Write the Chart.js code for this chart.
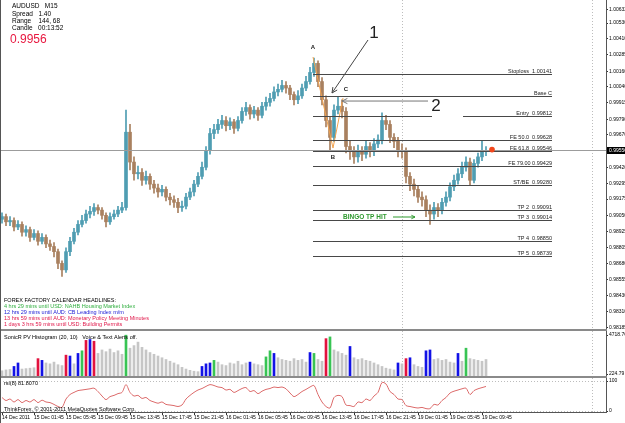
<!DOCTYPE html>
<html>
<head>
<meta charset="utf-8">
<script src="https://cdn.jsdelivr.net/npm/chart.js@4.4.1/dist/chart.umd.min.js"></script>
<style>
html, body { margin:0; padding:0; background:#fff; }
#wrap { position:relative; width:625px; height:423px; overflow:hidden; background:#fff; }
.panel { position:absolute; left:0; width:625px; }
#p1 { top:0; height:330px; }
#p2 { top:331px; height:45px; }
#p3 { top:378px; height:45px; }
.sep { position:absolute; left:0; width:607px; height:2px; background:#8a8a8a; }
#edge { position:absolute; left:0; top:0; width:1px; height:423px; background:#555; }
</style>
</head>
<body>
<div id="wrap">
  <div class="panel" id="p1"><canvas id="c-main"></canvas></div>
  <div class="sep" style="top:329px"></div>
  <div class="panel" id="p2"><canvas id="c-hist"></canvas></div>
  <div class="sep" style="top:376px"></div>
  <div class="panel" id="p3"><canvas id="c-rsi"></canvas></div>
  <div id="edge"></div>
</div>
<script>
/* ============================================================
   AUDUSD M15 — precio, histograma SonicR y RSI(8)
============================================================ */

const TIME_LABELS = ["14 Dec 2011","15 Dec 01:45","15 Dec 05:45","15 Dec 09:45","15 Dec 13:45",
    "15 Dec 17:45","15 Dec 21:45","16 Dec 01:45","16 Dec 05:45","16 Dec 09:45","16 Dec 13:45",
    "16 Dec 17:45","16 Dec 21:45","19 Dec 01:45","19 Dec 05:45","19 Dec 09:45"];

const PRICE_TICKS = [1.00632,1.00530,1.00410,1.00285,1.00160,1.00040,0.99915,0.99790,0.99670,
    0.99420,0.99295,0.99175,0.99050,0.98925,0.98805,0.98680,0.98555,0.98430,0.98310,0.98185];

const FIRST_OPEN = 0.9902;
const CLOSES = [
    0.9904,0.9900,0.9901,0.9896,0.9898,0.9892,0.9894,0.9888,0.9891,0.9885,
    0.9888,0.9883,0.9881,0.9877,0.9868,0.9863,0.9877,0.9885,0.9892,0.9898,
    0.9901,0.9906,0.9908,0.9911,0.9909,0.9905,0.9900,0.9904,0.9906,0.9909,
    0.9911,0.9969,0.9946,0.9937,0.9938,0.9932,0.9935,0.9929,0.9926,0.9923,
    0.9925,0.9919,0.9917,0.9915,0.9911,0.9912,0.9919,0.9923,0.9929,0.9935,
    0.9942,0.9955,0.9968,0.9971,0.9975,0.9978,0.9974,0.9977,0.9972,0.9978,
    0.9985,0.9988,0.9983,0.9986,0.9982,0.9989,0.9992,0.9995,1.0000,1.0002,
    1.0005,1.0003,0.9998,0.9994,0.9997,1.0003,1.0008,1.0015,1.0022,1.0008,
    0.9994,0.9978,0.9965,0.9986,0.9989,0.9985,0.9958,0.9954,0.9950,0.9955,
    0.9952,0.9958,0.9954,0.9960,0.9963,0.9978,0.9975,0.9965,0.9962,0.9955,
    0.9954,0.9935,0.9929,0.9925,0.9919,0.9917,0.9909,0.9906,0.9911,0.9909,
    0.9915,0.9919,0.9927,0.9932,0.9937,0.9942,0.9946,0.9932,0.9945,0.9950,
    0.9954,0.9955];
const HIGHS = [
    0.9907,0.9906,0.9904,0.9903,0.9901,0.9900,0.9897,0.9896,0.9894,0.9893,
    0.9891,0.9890,0.9886,0.9884,0.9879,0.9870,0.9880,0.9888,0.9895,0.9901,
    0.9905,0.9909,0.9912,0.9914,0.9913,0.9911,0.9907,0.9907,0.9909,0.9912,
    0.9915,0.9986,0.9975,0.9950,0.9943,0.9941,0.9939,0.9937,0.9932,0.9929,
    0.9928,0.9927,0.9922,0.9920,0.9918,0.9916,0.9922,0.9926,0.9932,0.9938,
    0.9946,0.9958,0.9972,0.9975,0.9979,0.9982,0.9981,0.9980,0.9979,0.9981,
    0.9988,0.9992,0.9990,0.9989,0.9988,0.9992,0.9996,0.9999,1.0004,1.0006,
    1.0009,1.0008,1.0005,1.0000,1.0001,1.0006,1.0012,1.0019,1.0026,1.0024,
    1.0011,0.9997,0.9981,0.9990,0.9996,0.9994,0.9988,0.9962,0.9958,0.9959,
    0.9958,0.9962,0.9961,0.9964,0.9967,0.9984,0.9982,0.9978,0.9968,0.9965,
    0.9960,0.9957,0.9938,0.9933,0.9928,0.9923,0.9920,0.9913,0.9915,0.9914,
    0.9918,0.9923,0.9930,0.9936,0.9941,0.9946,0.9950,0.9949,0.9948,0.9953,
    0.9962,0.9958];
const LOWS = [
    0.9899,0.9897,0.9897,0.9893,0.9894,0.9889,0.9889,0.9885,0.9886,0.9882,
    0.9883,0.9880,0.9878,0.9873,0.9864,0.9858,0.9861,0.9874,0.9883,0.9890,
    0.9896,0.9899,0.9903,0.9905,0.9906,0.9902,0.9896,0.9898,0.9902,0.9904,
    0.9907,0.9909,0.9940,0.9932,0.9933,0.9928,0.9929,0.9925,0.9922,0.9919,
    0.9920,0.9916,0.9913,0.9911,0.9907,0.9908,0.9910,0.9917,0.9920,0.9927,
    0.9933,0.9940,0.9952,0.9964,0.9968,0.9972,0.9970,0.9971,0.9968,0.9970,
    0.9976,0.9982,0.9979,0.9980,0.9978,0.9980,0.9986,0.9989,0.9993,0.9997,
    1.0000,0.9999,0.9994,0.9990,0.9991,0.9995,1.0001,1.0006,1.0012,1.0004,
    0.9990,0.9973,0.9955,0.9962,0.9983,0.9980,0.9953,0.9948,0.9945,0.9946,
    0.9947,0.9949,0.9950,0.9951,0.9957,0.9960,0.9971,0.9961,0.9957,0.9950,
    0.9949,0.9930,0.9924,0.9920,0.9915,0.9912,0.9904,0.9898,0.9902,0.9904,
    0.9906,0.9912,0.9916,0.9924,0.9929,0.9934,0.9939,0.9928,0.9930,0.9942,
    0.9947,0.9951];

const HIST_VALUES = [
    600,700,750,1100,1500,800,850,900,950,2000,
    1800,1500,1400,1600,1300,1200,2400,2300,1400,2600,
    2900,4100,4200,4000,2600,3000,2800,3100,2700,2900,
    2500,4700,3200,3500,3900,3300,3000,2700,2500,2300,
    2100,1900,1700,1500,1300,1000,800,650,550,500,
    1100,1400,1500,1800,1600,1300,1200,1500,1400,1700,
    1300,1500,1600,1400,1300,1200,2200,2900,2600,2100,
    1900,1800,1700,2000,1800,1900,1600,2700,2600,1900,
    1700,4300,4500,3000,2800,2600,2400,3400,2100,1900,
    2000,1800,1700,1500,1300,1100,900,800,700,1500,
    1400,2000,2100,1300,1100,1000,2900,3000,1900,2000,
    1800,1900,1600,1500,2600,1700,3200,2000,1900,1800,
    1700,1900];
/* G gris, B azul, R rojo, N verde */
const HIST_KIND = "GGGBBGGGGR" + "BGGGGGRBGB" + "NRBRGGGGGG" + "GNGGGGGGGG" + "GGGGGGGGGG" +
    "BBBNGGGGGG" + "GGBGGGNNBG" + "GGGGGGGBNG" + "GRNGGGGBGG" + "GGGGGGGGGB" +
    "GRBGGGBBGG" + "GGGGBGNGGG" + "GG";

const RSI_VALUES = [
    45,35,40,30,38,28,35,30,38,28,
    36,30,28,22,15,12,40,55,62,68,
    70,72,74,76,65,50,38,48,52,58,
    62,88,62,50,52,42,45,35,30,26,
    30,22,20,18,15,20,40,52,62,70,
    75,82,88,85,80,78,70,72,62,68,
    75,78,65,68,58,66,72,75,80,78,
    80,74,60,48,55,65,72,80,85,55,
    30,15,10,45,52,48,20,18,15,30,
    28,40,35,50,62,95,90,65,55,40,
    38,18,15,12,10,12,8,8,22,20,
    35,45,60,66,70,74,76,55,68,74,
    78,81.8];

const LEVEL_NAMES = ["Stoploss  1.00141","Base C","Entry  0.99812","FE 50.0  0.99628","FE 61.8  0.99546",
    "FE 79.00 0.99429","ST/BE  0.99280","TP 2  0.99091","TP 3  0.99014","TP 4  0.98850","TP 5  0.98739"];
const LEVEL_PRICES = [1.00141,0.99965,0.99812,0.99628,0.99546,0.99429,0.99280,0.99091,0.99014,0.98850,0.98739];

const CALENDAR_LINES = ["4 hrs 29 mins until USD: NAHB Housing Market Index",
    "12 hrs 29 mins until AUD: CB Leading Index m/m",
    "13 hrs 59 mins until AUD: Monetary Policy Meeting Minutes",
    "1 days 3 hrs 59 mins until USD: Building Permits"];
const CALENDAR_COLORS = ["#2fae3e", "#2323d6", "#e0184a", "#e0184a"];

const BID = 0.99556;
const PRICE_MAX = 1.00708;
const PRICE_MIN = 0.98167;
const X_MIN = -0.5, X_MAX = 151;
const DAY_BREAKS = [100, 147.5];
const AXIS_W = 19;
const FONT = "'Liberation Sans', Arial, sans-serif";

Chart.defaults.font.family = FONT;
Chart.defaults.color = "#000";
Chart.defaults.animation = false;

const KIND_COLOR = { G: "#c6c6c6", B: "#1212e6", R: "#e2123e", N: "#38c454" };

/* helpers */
function yAxisFit(scale) {
    scale.width = AXIS_W;
    scale.paddingTop = 0;
    scale.paddingBottom = 0;
}

function txt(ctx, s, x, y, font, color, align, base) {
    ctx.font = font;
    ctx.fillStyle = color;
    ctx.textAlign = align || "left";
    ctx.textBaseline = base || "middle";
    ctx.fillText(s, x, y);
}

function hline(ctx, x1, x2, y) {
    ctx.beginPath();
    ctx.moveTo(x1, y);
    ctx.lineTo(x2, y);
    ctx.stroke();
}

function arrow(ctx, x1, y1, x2, y2, head) {
    ctx.beginPath();
    ctx.moveTo(x1, y1);
    ctx.lineTo(x2, y2);
    ctx.stroke();
    const ang = Math.atan2(y2 - y1, x2 - x1);
    ctx.beginPath();
    ctx.moveTo(x2 - head * Math.cos(ang - 0.45), y2 - head * Math.sin(ang - 0.45));
    ctx.lineTo(x2, y2);
    ctx.lineTo(x2 - head * Math.cos(ang + 0.45), y2 - head * Math.sin(ang + 0.45));
    ctx.stroke();
}

/* separadores de dia punteados, en los tres paneles */
const dayLines = {
    id: "dayLines",
    beforeDatasetsDraw(chart) {
        const ctx = chart.ctx, a = chart.chartArea, xs = chart.scales.x;
        ctx.save();
        ctx.strokeStyle = "#bdbdbd";
        ctx.lineWidth = 1;
        ctx.setLineDash([1, 2]);
        for (const d of DAY_BREAKS) {
            const x = Math.round(xs.getPixelForValue(d)) + 0.5;
            ctx.beginPath();
            ctx.moveTo(x, a.top);
            ctx.lineTo(x, a.bottom);
            ctx.stroke();
        }
        ctx.restore();
    }
};

/* ---------------- panel principal ---------------- */
function candleColor(i) {
    const o = i === 0 ? FIRST_OPEN : CLOSES[i - 1];
    return CLOSES[i] >= o ? "#4f9db2" : "#a9805f";
}

const mainOverlay = {
    id: "mainOverlay",
    afterDatasetsDraw(chart) {
        const ctx = chart.ctx, a = chart.chartArea;
        const X = v => chart.scales.x.getPixelForValue(v);
        const Y = v => chart.scales.y.getPixelForValue(v);
        ctx.save();
        ctx.lineWidth = 1;

        // linea bid
        ctx.strokeStyle = "#9c9c9c";
        hline(ctx, a.left, a.right, Math.round(Y(BID)) + 0.5);

        // niveles fibo
        ctx.strokeStyle = "#484848";
        LEVEL_PRICES.forEach((p, k) => {
            const y = Math.round(Y(p)) + 0.5;
            if (k === 2) {
                hline(ctx, X(77.75), X(107.5), y);
                hline(ctx, X(115.25), X(137.5), y);
            } else {
                hline(ctx, X(77.75), X(137.5), y);
            }
            txt(ctx, LEVEL_NAMES[k], X(137.5), y - 1.5, "5.5px " + FONT, "#222", "right", "alphabetic");
        });

        // flechas 1 y 2
        ctx.strokeStyle = "#444";
        arrow(ctx, X(91.5), Y(1.00400), X(82.5), Y(0.99992), 6);
        ctx.strokeStyle = "#777";
        arrow(ctx, X(106.5), Y(0.99930), X(85), Y(0.99930), 6);
        txt(ctx, "1", X(93), Y(1.00454), "17px " + FONT, "#222", "center");
        txt(ctx, "2", X(108.5), Y(0.99892), "17px " + FONT, "#222", "center");
        txt(ctx, "A", X(77.75), Y(1.00346), "bold 6px " + FONT, "#222", "center");
        txt(ctx, "B", X(82.75), Y(0.99499), "bold 6px " + FONT, "#222", "center");
        txt(ctx, "C", X(86), Y(1.00023), "bold 6px " + FONT, "#222", "center");

        // BINGO
        txt(ctx, "BINGO TP HIT", X(85.25), Y(0.99037), "bold 6.5px " + FONT, "#2f9a2f", "left");
        ctx.strokeStyle = "#2f9a2f";
        arrow(ctx, X(97.75), Y(0.99037), X(103.25), Y(0.99037), 4);

        // punto precio actual
        ctx.fillStyle = "#f2471c";
        ctx.beginPath();
        ctx.arc(X(122.5), Y(BID), 2.8, 0, Math.PI * 2);
        ctx.fill();
        ctx.restore();
    },
    afterDraw(chart) {
        const ctx = chart.ctx, a = chart.chartArea;
        const Y = v => chart.scales.y.getPixelForValue(v);
        ctx.save();
        // info arriba izquierda
        txt(ctx, "AUDUSD   M15", 12, 6, "6.5px " + FONT, "#000");
        txt(ctx, "Spread   1.40", 12, 14, "6.5px " + FONT, "#000");
        txt(ctx, "Range    144, 68", 12, 21, "6.5px " + FONT, "#000");
        txt(ctx, "Candle   00:13:52", 12, 28, "6.5px " + FONT, "#000");
        txt(ctx, "0.9956", 10, 40, "12px " + FONT, "#e8173f");

        // calendario
        txt(ctx, "FOREX FACTORY CALENDAR HEADLINES:", 4, 300, "5.5px " + FONT, "#000");
        CALENDAR_LINES.forEach((s, k) => {
            txt(ctx, s, 4, 306 + k * 6.3, "5.5px " + FONT, CALENDAR_COLORS[k]);
        });

        // etiqueta bid en el eje
        const y = Math.round(Y(BID));
        ctx.fillStyle = "#000";
        ctx.fillRect(a.right + 1, y - 3, AXIS_W - 1, 7);
        txt(ctx, BID.toFixed(5), a.right + 3, y + 0.5, "5px " + FONT, "#fff");
        ctx.restore();
    }
};

function render_mainChart() {
    const ctx = document.getElementById("c-main");
    const idx = CLOSES.map((_, i) => i);
    const colors = idx.map(candleColor);

    new Chart(ctx, {
        type: "bar",
        data: {
            datasets: [
                {
                    type: "line",
                    data: [{ x: 77.75, y: 1.00269 }, { x: 82.75, y: 0.99568 }, { x: 85.25, y: 0.99953 }],
                    borderColor: "#f3a34e",
                    borderWidth: 1,
                    pointRadius: 0,
                    tension: 0
                },
                {
                    data: idx.map(i => ({ x: i, y: [i === 0 ? FIRST_OPEN : CLOSES[i - 1], CLOSES[i]] })),
                    backgroundColor: colors,
                    barThickness: 3,
                    minBarLength: 1,
                    grouped: false
                },
                {
                    data: idx.map(i => ({ x: i, y: [LOWS[i], HIGHS[i]] })),
                    backgroundColor: colors,
                    barThickness: 1,
                    grouped: false
                }
            ]
        },
        options: {
            responsive: true,
            maintainAspectRatio: false,
            layout: { padding: 0 },
            plugins: { legend: { display: false }, tooltip: { enabled: false } },
            scales: {
                x: { type: "linear", min: X_MIN, max: X_MAX, offset: false, display: false },
                y: {
                    position: "right",
                    min: PRICE_MIN,
                    max: PRICE_MAX,
                    afterBuildTicks: s => { s.ticks = PRICE_TICKS.map(v => ({ value: v })); },
                    afterFit: yAxisFit,
                    ticks: { font: { size: 5 }, padding: 1, callback: v => Number(v).toFixed(5) },
                    grid: { drawOnChartArea: false, tickLength: 2, color: "#333" },
                    border: { color: "#555" }
                }
            }
        },
        plugins: [dayLines, mainOverlay]
    });
}

/* ---------------- histograma ---------------- */
const histOverlay = {
    id: "histOverlay",
    afterDraw(chart) {
        const ctx = chart.ctx;
        ctx.save();
        txt(ctx, "SonicR PV Histogram (20, 10)   Voice & Text Alerts off.", 4, 6, "5.5px " + FONT, "#000");
        ctx.restore();
    }
};

function render_histChart() {
    const ctx = document.getElementById("c-hist");
    new Chart(ctx, {
        type: "bar",
        data: {
            datasets: [{
                data: HIST_VALUES.map((v, i) => ({ x: i, y: v })),
                backgroundColor: HIST_VALUES.map((_, i) => KIND_COLOR[HIST_KIND[i]]),
                barThickness: 2
            }]
        },
        options: {
            responsive: true,
            maintainAspectRatio: false,
            layout: { padding: 0 },
            plugins: { legend: { display: false }, tooltip: { enabled: false } },
            scales: {
                x: { type: "linear", min: X_MIN, max: X_MAX, offset: false, display: false },
                y: {
                    position: "right",
                    min: 0,
                    max: 5180,
                    afterBuildTicks: s => { s.ticks = [{ value: 4718.76 }, { value: 224.79 }]; },
                    afterFit: yAxisFit,
                    ticks: { font: { size: 5 }, padding: 1, callback: v => Number(v).toFixed(2) },
                    grid: { drawOnChartArea: false, tickLength: 2, color: "#333" },
                    border: { color: "#555" }
                }
            }
        },
        plugins: [dayLines, histOverlay]
    });
}

/* ---------------- RSI ---------------- */
const rsiOverlay = {
    id: "rsiOverlay",
    beforeDatasetsDraw(chart) {
        const ctx = chart.ctx, a = chart.chartArea, ys = chart.scales.y;
        ctx.save();
        ctx.strokeStyle = "#bdbdbd";
        ctx.setLineDash([1, 2]);
        hline(ctx, a.left, a.right, Math.round(ys.getPixelForValue(100)) + 0.5);
        hline(ctx, a.left, a.right, Math.round(ys.getPixelForValue(0)) + 0.5);
        ctx.restore();
    },
    afterDraw(chart) {
        const ctx = chart.ctx;
        ctx.save();
        txt(ctx, "rsi(8) 81.8070", 4, 5, "5.5px " + FONT, "#000");
        txt(ctx, "ThinkForex, \u00a9 2001-2011 MetaQuotes Software Corp.", 4, 31, "5.5px " + FONT, "#000");
        ctx.restore();
    }
};

function render_rsiChart() {
    const ctx = document.getElementById("c-rsi");
    new Chart(ctx, {
        type: "line",
        data: {
            datasets: [{
                data: RSI_VALUES.map((v, i) => ({ x: i, y: v })),
                borderColor: "#dc6a6a",
                borderWidth: 1,
                pointRadius: 0,
                tension: 0.3
            }]
        },
        options: {
            responsive: true,
            maintainAspectRatio: false,
            layout: { padding: 0 },
            plugins: { legend: { display: false }, tooltip: { enabled: false } },
            scales: {
                x: {
                    type: "linear",
                    min: X_MIN,
                    max: X_MAX,
                    offset: false,
                    afterBuildTicks: s => { s.ticks = TIME_LABELS.map((_, k) => ({ value: k * 8 })); },
                    afterFit: s => { s.paddingLeft = 0; s.paddingRight = 0; s.height = 11; },
                    ticks: {
                        font: { size: 5 },
                        padding: 0,
                        align: "start",
                        maxRotation: 0,
                        autoSkip: false,
                        callback: v => TIME_LABELS[Math.round(v / 8)]
                    },
                    grid: { drawOnChartArea: false, tickLength: 3, color: "#333" },
                    border: { color: "#555" }
                },
                y: {
                    position: "right",
                    min: -3.3,
                    max: 110,
                    afterBuildTicks: s => { s.ticks = [{ value: 100 }, { value: 0 }]; },
                    afterFit: yAxisFit,
                    ticks: { font: { size: 5 }, padding: 1 },
                    grid: { drawOnChartArea: false, tickLength: 2, color: "#333" },
                    border: { color: "#555" }
                }
            }
        },
        plugins: [dayLines, rsiOverlay]
    });
}

render_mainChart();
render_histChart();
render_rsiChart();
</script>
</body>
</html>
